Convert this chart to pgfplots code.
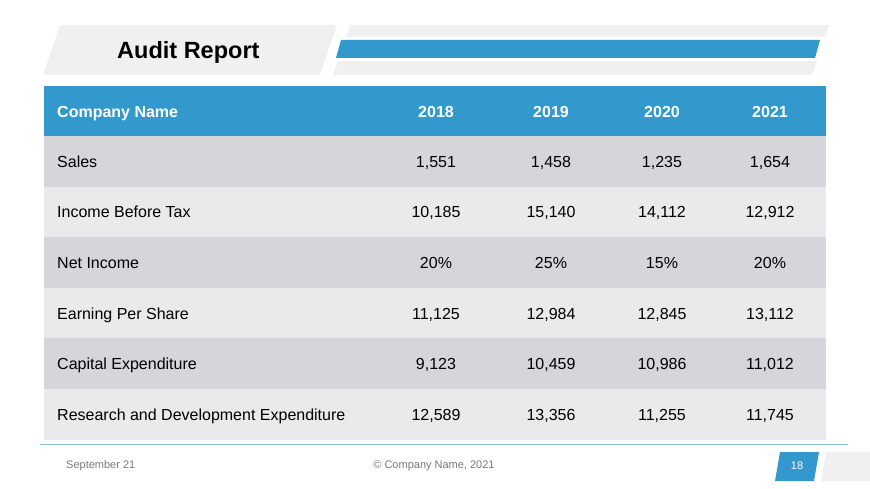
\documentclass[border=0pt]{standalone}
\usepackage{fontspec}
\setmainfont{Liberation Sans}
\usepackage{pgfplots}
\usepackage{pgfplotstable}
\pgfplotsset{compat=1.18}
\definecolor{hblue}{RGB}{51,153,204}
\definecolor{rowdark}{RGB}{212,214,217}
\definecolor{rowlight}{RGB}{233,234,236}
\definecolor{tgray}{RGB}{240,240,240}
\definecolor{fline}{RGB}{140,195,208}
\definecolor{ftext}{RGB}{120,120,120}
\tikzset{cell/.style={inner sep=0pt, text height=11.5pt, text depth=0pt, font=\fontsize{16}{19}\selectfont}}
\pgfplotstableread[col sep=semicolon]{
y;name;a;b;c;d
161.3;Sales;1,551;1,458;1,235;1,654
212;Income Before Tax;10,185;15,140;14,112;12,912
262.7;Net Income;20\%;25\%;15\%;20\%
313.3;Earning Per Share;11,125;12,984;12,845;13,112
364;Capital Expenditure;9,123;10,459;10,986;11,012
414.5;Research and Development Expenditure;12,589;13,356;11,255;11,745
}\datatable
\pgfplotstableread[col sep=semicolon]{
y;name;a;b;c;d
111.3;Company Name;2018;2019;2020;2021
}\headtable
\begin{document}
\begin{tikzpicture}
\begin{axis}[
  width=870pt, height=489pt, scale only axis,
  xmin=0, xmax=870, ymin=0, ymax=489, y dir=reverse,
  axis lines=none, ticks=none, clip=false,
  every axis plot/.append style={draw=none, mark=none},
  nodes near coords, point meta=explicit symbolic,
]
% background frame
\path (axis cs:0,0) rectangle (axis cs:870,489);
% title band
\fill[tgray] (axis cs:60,25) -- (axis cs:337,25) -- (axis cs:320,75) -- (axis cs:43,75) -- cycle;
\fill[tgray] (axis cs:350,25) -- (axis cs:829,25) -- (axis cs:812,75) -- (axis cs:333,75) -- cycle;
\fill[white] (axis cs:340,37) -- (axis cs:840,37) -- (axis cs:830,61) -- (axis cs:330,61) -- cycle;
\fill[hblue] (axis cs:341,40) -- (axis cs:820,40) -- (axis cs:815,58) -- (axis cs:336,58) -- cycle;
\node[anchor=west, inner sep=0pt, text height=16.5pt, text depth=0pt, font=\fontsize{23.5}{26}\selectfont\bfseries] at (axis cs:117,50) {Audit Report};
% table rows
\fill[hblue] (axis cs:44,86) rectangle (axis cs:826,136);
\fill[rowdark] (axis cs:44,136) rectangle (axis cs:826,187);
\fill[rowlight] (axis cs:44,187) rectangle (axis cs:826,237);
\fill[rowdark] (axis cs:44,237) rectangle (axis cs:826,288);
\fill[rowlight] (axis cs:44,288) rectangle (axis cs:826,338);
\fill[rowdark] (axis cs:44,338) rectangle (axis cs:826,389);
\fill[rowlight] (axis cs:44,389) rectangle (axis cs:826,440);
% footer
\draw[fline, line width=1pt] (axis cs:40,444) -- (axis cs:848,444);
\fill[hblue] (axis cs:780,452) -- (axis cs:819,452) -- (axis cs:814,481) -- (axis cs:775,481) -- cycle;
\fill[tgray] (axis cs:826,452) -- (axis cs:870,452) -- (axis cs:870,481) -- (axis cs:821,481) -- cycle;
\node[anchor=west, inner sep=0pt, text=ftext, font=\fontsize{11}{13}\selectfont] at (axis cs:66,466) {September 21};
\node[text=ftext, font=\fontsize{11}{13}\selectfont] at (axis cs:434,466) {\textcopyright{} Company Name, 2021};
\node[text=white, font=\fontsize{11}{13}\selectfont] at (axis cs:797,466) {18};
% header text
\addplot[nodes near coords style={cell, anchor=west, text=white, font=\fontsize{16}{19}\selectfont\bfseries}] table[x expr=57, y=y, meta=name] {\headtable};
\addplot[nodes near coords style={cell, anchor=center, text=white, font=\fontsize{16}{19}\selectfont\bfseries}] table[x expr=436, y=y, meta=a] {\headtable};
\addplot[nodes near coords style={cell, anchor=center, text=white, font=\fontsize{16}{19}\selectfont\bfseries}] table[x expr=551, y=y, meta=b] {\headtable};
\addplot[nodes near coords style={cell, anchor=center, text=white, font=\fontsize{16}{19}\selectfont\bfseries}] table[x expr=662, y=y, meta=c] {\headtable};
\addplot[nodes near coords style={cell, anchor=center, text=white, font=\fontsize{16}{19}\selectfont\bfseries}] table[x expr=770, y=y, meta=d] {\headtable};
% body text
\addplot[nodes near coords style={cell, anchor=west, text=black}] table[x expr=57, y=y, meta=name] {\datatable};
\addplot[nodes near coords style={cell, anchor=center, text=black}] table[x expr=436, y=y, meta=a] {\datatable};
\addplot[nodes near coords style={cell, anchor=center, text=black}] table[x expr=551, y=y, meta=b] {\datatable};
\addplot[nodes near coords style={cell, anchor=center, text=black}] table[x expr=662, y=y, meta=c] {\datatable};
\addplot[nodes near coords style={cell, anchor=center, text=black}] table[x expr=770, y=y, meta=d] {\datatable};
\end{axis}
\end{tikzpicture}
\end{document}
